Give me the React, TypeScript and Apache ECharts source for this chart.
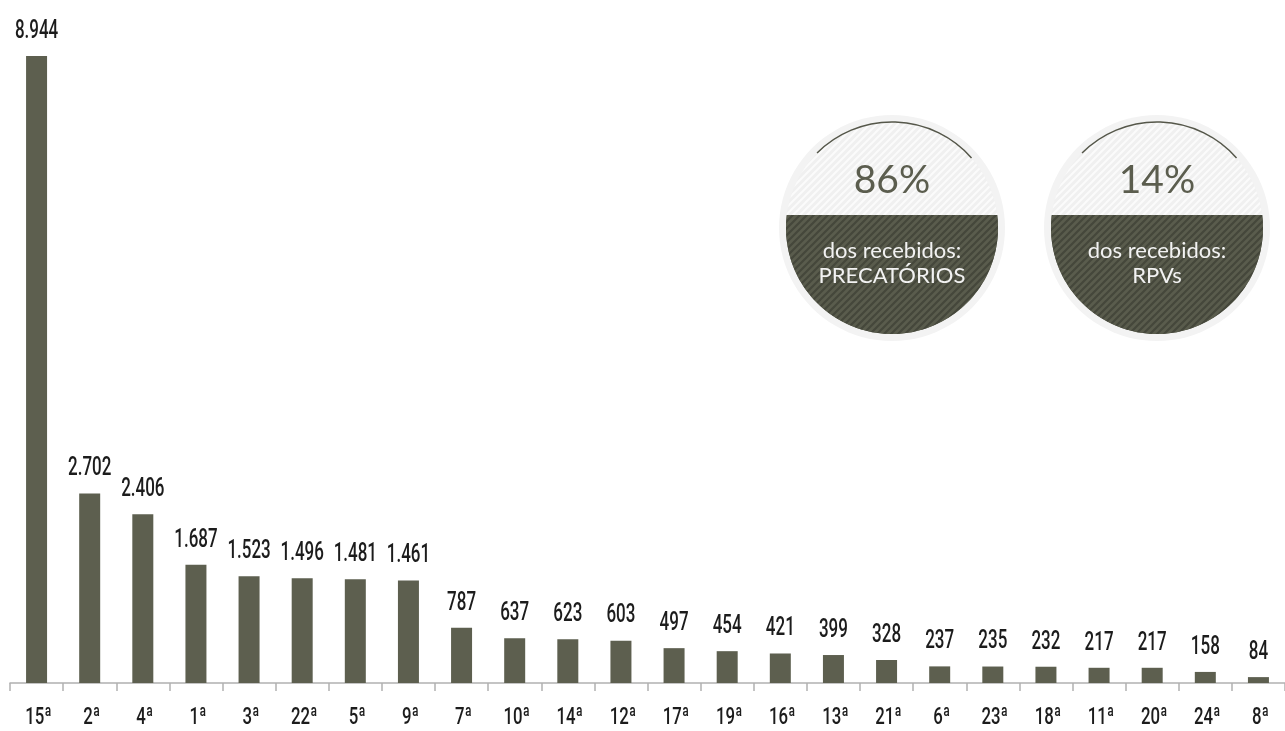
import React, { useEffect, useRef } from "react";
import * as echarts from "echarts";

const categories = ["15ª", "2ª", "4ª", "1ª", "3ª", "22ª", "5ª", "9ª", "7ª", "10ª", "14ª", "12ª", "17ª", "19ª", "16ª", "13ª", "21ª", "6ª", "23ª", "18ª", "11ª", "20ª", "24ª", "8ª"];
const values = [8944, 2702, 2406, 1687, 1523, 1496, 1481, 1461, 787, 637, 623, 603, 497, 454, 421, 399, 328, 237, 235, 232, 217, 217, 158, 84];
const shareValues = ["86%", "14%"];
const shareLabels = ["dos recebidos:\nPRECATÓRIOS", "dos recebidos:\nRPVs"];

const BAR = "#5d5f4f";
const TXT = "#1c1c1c";

function stripes(bg: string, fg: string, size: number, lw: number) {
  const c = document.createElement("canvas");
  c.width = size;
  c.height = size;
  const g = c.getContext("2d")!;
  g.fillStyle = bg;
  g.fillRect(0, 0, size, size);
  g.strokeStyle = fg;
  g.lineWidth = lw;
  g.beginPath();
  g.moveTo(0, size);
  g.lineTo(size, 0);
  g.moveTo(-size / 2, size / 2);
  g.lineTo(size / 2, -size / 2);
  g.moveTo(size / 2, size + size / 2);
  g.lineTo(size + size / 2, size / 2);
  g.stroke();
  return { image: c.toDataURL(), repeat: "repeat", imageWidth: size, imageHeight: size } as any;
}

function badge(cx: number, cy: number, big: string, small: string) {
  const r = 106;
  const d = 13;
  const pts: number[][] = [];
  const a1 = -Math.asin(d / r);
  const a2 = Math.PI + Math.asin(d / r);
  const n = 90;
  for (let i = 0; i <= n; i++) {
    const a = a1 + ((a2 - a1) * i) / n;
    pts.push([cx + r * Math.cos(a), cy + r * Math.sin(a)]);
  }
  const lightPat = stripes("#f0f0f0", "#fbfbfb", 7, 2);
  const darkPat = stripes("#5a5c4d", "#45473b", 7, 2.2);
  return [
    { type: "circle", shape: { cx, cy, r: r + 7 }, style: { fill: "#f3f3f3" }, z: 1 },
    { type: "circle", shape: { cx, cy, r }, style: { fill: "#f0f0f0" }, z: 2 },
    { type: "circle", shape: { cx, cy, r }, style: { fill: lightPat }, z: 3 },
    { type: "polygon", shape: { points: pts }, style: { fill: "#525446" }, z: 4 },
    { type: "polygon", shape: { points: pts }, style: { fill: darkPat }, z: 5 },
    {
      type: "arc",
      shape: { cx, cy, r, startAngle: Math.PI * 1.25, endAngle: Math.PI * 1.77 },
      style: { stroke: "#55574a", lineWidth: 1.5, fill: null },
      z: 6,
    },
    {
      type: "text",
      x: cx,
      y: cy - 50,
      style: {
        text: big,
        fill: "#5b5d4e",
        font: "39px Lato, 'Open Sans', sans-serif",
        align: "center",
        verticalAlign: "middle",
      },
      z: 7,
    },
    {
      type: "text",
      x: cx,
      y: cy + 34,
      style: {
        text: small,
        fill: "#f2f2f2",
        font: "22px Lato, 'Open Sans', sans-serif",
        align: "center",
        verticalAlign: "middle",
        lineHeight: 25,
      },
      z: 7,
    },
  ];
}

export default function App() {
  const ref = useRef<HTMLDivElement>(null);
  useEffect(() => {
    if (!ref.current) return;
    const chart = echarts.init(ref.current, undefined, { renderer: "svg" });
    const fmt = (v: number) => v.toLocaleString("pt-BR");
    chart.setOption({
      animation: false,
      grid: { left: 10, top: 56, width: 1282, height: 627 },
      xAxis: {
        type: "category",
        data: categories,
        boundaryGap: true,
        axisLine: { lineStyle: { color: "#b0b0b0", width: 1.5 } },
        axisTick: { show: true, length: 8, lineStyle: { color: "#b0b0b0", width: 1.5 } },
        axisLabel: { show: false },
      },
      yAxis: {
        type: "value",
        min: 0,
        max: (v: any) => v.max,
        show: false,
        splitLine: { show: false },
      },
      series: [
        {
          type: "bar",
          data: values,
          barWidth: 21,
          itemStyle: { color: BAR },
        },
        {
          type: "custom",
          data: values.map((v, i) => [i, v]),
          clip: false,
          z: 5,
          renderItem: (params: any, api: any) => {
            const i = api.value(0);
            const top = api.coord([i, api.value(1)]);
            const base = api.coord([i, 0]);
            return {
              type: "group",
              children: [
                {
                  type: "text",
                  x: top[0],
                  y: top[1] - 27,
                  scaleX: 0.68,
                  style: {
                    text: fmt(values[params.dataIndex]),
                    font: "500 25px Roboto, sans-serif",
                    fill: TXT,
                    align: "center",
                    verticalAlign: "middle",
                  },
                },
                {
                  type: "text",
                  x: base[0] + 2,
                  y: base[1] + 33,
                  scaleX: 0.7,
                  style: {
                    text: categories[params.dataIndex],
                    font: "500 24px Roboto, sans-serif",
                    fill: TXT,
                    align: "center",
                    verticalAlign: "middle",
                  },
                },
              ],
            };
          },
        },
      ],
      graphic: [...badge(892, 228, shareValues[0], shareLabels[0]), ...badge(1157, 228, shareValues[1], shareLabels[1])],
    });
    return () => chart.dispose();
  }, []);
  return <div ref={ref} style={{ position: "fixed", left: 0, top: 0, width: 1285, height: 731 }} />;
}
